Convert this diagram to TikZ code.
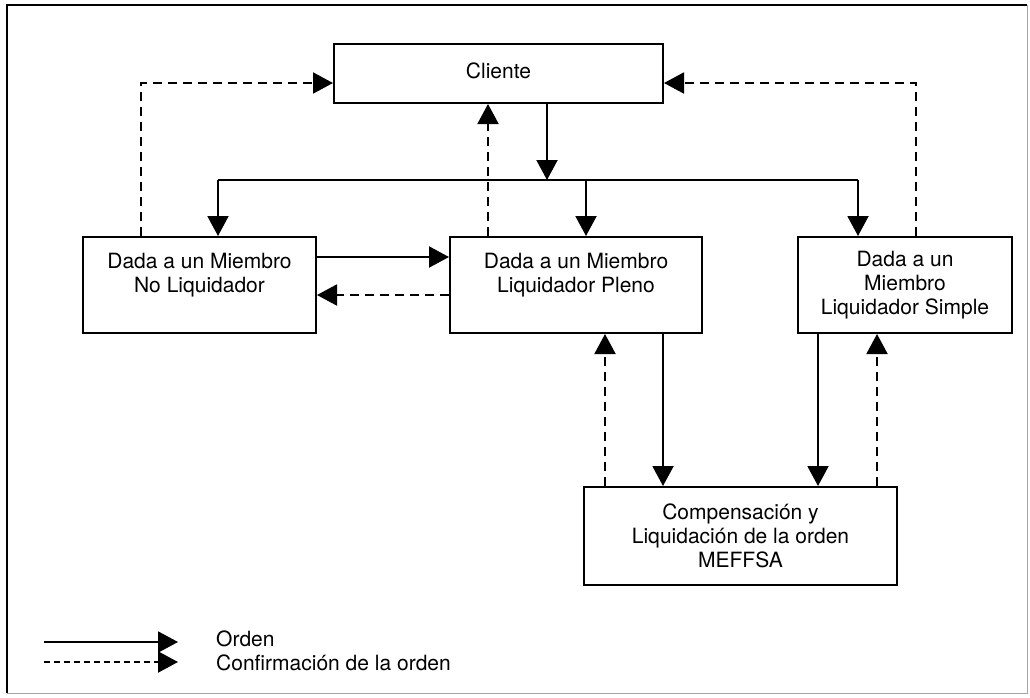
\documentclass[tikz,border=0pt]{standalone}
\usepackage{fontspec}
\setmainfont{TeX Gyre Heros}
\usetikzlibrary{arrows.meta}
\begin{document}
\begin{tikzpicture}[x=1pt,y=-1pt,
  box/.style={draw,line width=2pt,rectangle,inner sep=0pt,align=center,
    font=\fontsize{21}{24}\selectfont},
  ord/.style={line width=2pt,-{Triangle[length=20pt,width=21pt]}},
  conf/.style={ord,dash pattern=on 9pt off 6pt},
  plain/.style={line width=2pt},
  lbl/.style={anchor=west,inner sep=0pt,font=\fontsize{21}{24}\selectfont}]
\useasboundingbox (0,0) rectangle (1030,697);
% outer frame
\draw[line width=1.6pt] (7,693) -- (7,5) -- (1027,5);
\draw[line width=1pt,black!35] (1027,5) -- (1027,693) -- (7,693);

% boxes
\node[box,minimum width=329pt,minimum height=59pt] (cl) at (498.5,73.5)
  {\raisebox{5pt}{Cliente}};
\node[box,minimum width=233pt,minimum height=96pt] (nl) at (199.5,285)
  {Dada a un Miembro\\No Liquidador\\~};
\node[box,minimum width=252pt,minimum height=96pt] (lp) at (576,285)
  {Dada a un Miembro\\Liquidador Pleno\\~};
\node[box,minimum width=214pt,minimum height=96pt] (ls) at (905,285)
  {Dada a un\\Miembro\\Liquidador Simple};
\node[box,minimum width=313pt,minimum height=98pt] (mf) at (740.5,536)
  {Compensación y\\Liquidación de la orden\\MEFFSA};

% order flow from the client
\coordinate (jn) at (547,180);
\coordinate (bl) at (218,180);
\coordinate (bm) at (586,180);
\coordinate (br) at (858,180);
\draw[ord] (jn |- cl.south) -- (jn);
\draw[plain] (bl) -- (br);
\draw[ord] (bl) -- (bl |- nl.north);
\draw[ord] (bm) -- (bm |- lp.north);
\draw[ord] (br) -- (br |- ls.north);

% confirmations back to the client
\draw[conf] (141,0 |- nl.north) -- (141,83) -- (cl.west |- 0,83);
\draw[conf] (488,0 |- lp.north) -- (488,0 |- cl.south);
\draw[conf] (916,0 |- ls.north) -- (916,83) -- (cl.east |- 0,83);

% between members
\draw[ord] (nl.east |- 0,257) -- (lp.west |- 0,257);
\draw[conf] (lp.west |- 0,295) -- (nl.east |- 0,295);

% to and from MEFFSA
\draw[conf] (605,0 |- mf.north) -- (605,0 |- lp.south);
\draw[ord] (663,0 |- lp.south) -- (663,0 |- mf.north);
\draw[ord] (818,0 |- ls.south) -- (818,0 |- mf.north);
\draw[conf] (877,0 |- mf.north) -- (877,0 |- ls.south);

% legend
\coordinate (l1a) at (44,642);
\coordinate (l1b) at (178,642);
\coordinate (l2a) at (44,662);
\coordinate (l2b) at (178,662);
\draw[ord] (l1a) -- (l1b);
\draw[conf,dash pattern=on 6pt off 4pt] (l2a) -- (l2b);
\node[lbl] (t1) at (216,639) {Orden};
\node[lbl] (t2) at (216,663) {Confirmación de la orden};
\end{tikzpicture}
\end{document}
